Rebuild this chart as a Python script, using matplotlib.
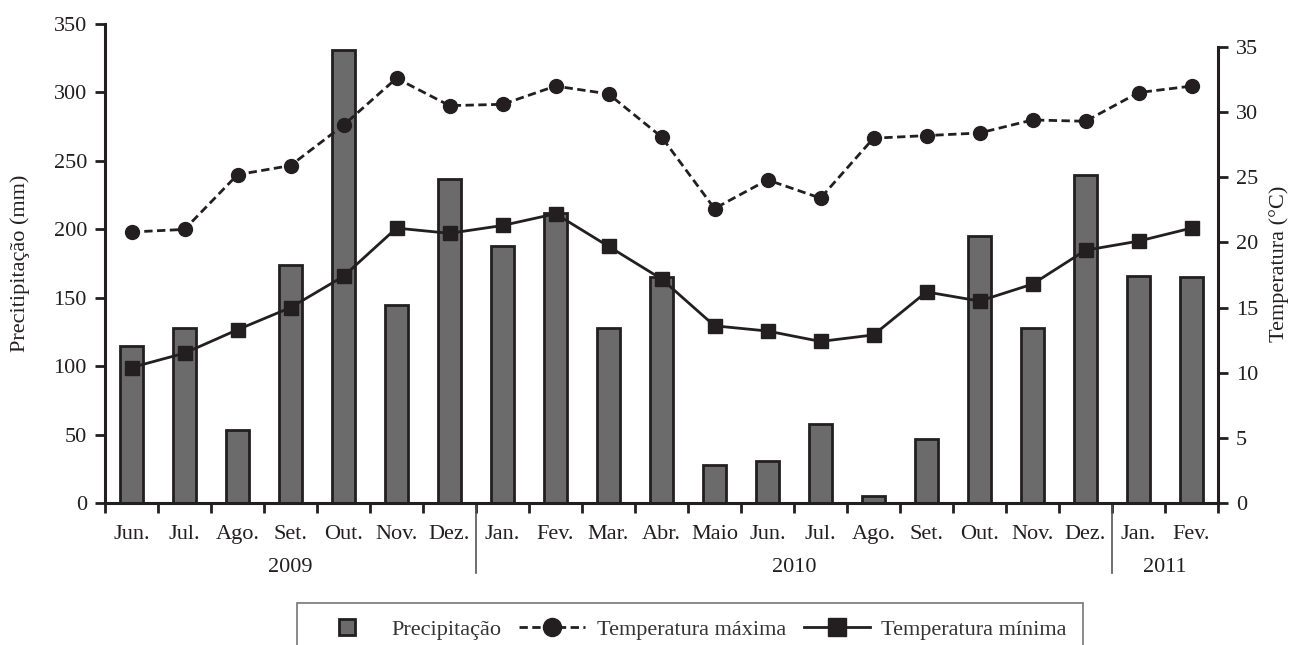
import numpy as np
import matplotlib.pyplot as plt
from matplotlib.lines import Line2D

plt.rcParams['font.family'] = ['Liberation Serif', 'DejaVu Serif']

meses = ['Jun.', 'Jul.', 'Ago.', 'Set.', 'Out.', 'Nov.', 'Dez.',
         'Jan.', 'Fev.', 'Mar.', 'Abr.', 'Maio', 'Jun.', 'Jul.', 'Ago.',
         'Set.', 'Out.', 'Nov.', 'Dez.', 'Jan.', 'Fev.']
precipitacao = [115, 128, 53, 174, 331, 145, 237,
                188, 212, 128, 165, 28, 31, 58, 5,
                47, 195, 128, 240, 166, 165]
temp_max = [20.8, 21.0, 25.2, 25.9, 29.0, 32.6, 30.5,
            30.6, 32.0, 31.4, 28.1, 22.6, 24.8, 23.4, 28.0,
            28.2, 28.4, 29.4, 29.3, 31.5, 32.0]
temp_min = [10.4, 11.5, 13.3, 15.0, 17.4, 21.1, 20.7,
            21.3, 22.2, 19.7, 17.2, 13.6, 13.2, 12.4, 12.9,
            16.2, 15.5, 16.8, 19.4, 20.1, 21.1]
anos = ['2009', '2010', '2011']
meses_por_ano = [7, 12, 2]

ink = '#231f20'
x = np.arange(len(meses))

fig = plt.figure(figsize=(12.89, 6.45), dpi=100)
ax = fig.add_axes([105 / 1289, 1 - 503 / 645, 1113 / 1289, 479 / 645])
ax2 = ax.twinx()

ax.bar(x, precipitacao, width=0.42, color='#6b6b6b', edgecolor=ink, linewidth=2, zorder=2)
ax.set_xlim(-0.5, len(meses) - 0.5)
ax.set_ylim(0, 350)
ax.set_yticks(np.arange(0, 351, 50))

ax2.plot(x, temp_max, color=ink, lw=2, ls=(0, (3, 1.6)), marker='o', ms=10)
ax2.plot(x, temp_min, color=ink, lw=2, ls='-', marker='s', ms=10)
ax2.set_ylim(0, 35 * 479 / 456)
ax2.set_yticks(np.arange(0, 36, 5))
ax2.spines['right'].set_bounds(0, 35)

for a in (ax, ax2):
    a.spines['top'].set_visible(False)
    for s in a.spines.values():
        s.set_linewidth(2.2)
        s.set_color(ink)
    a.tick_params(axis='y', direction='out', length=7, width=2, labelsize=16, colors=ink, pad=6)
ax2.spines['left'].set_visible(False)
ax.spines['right'].set_visible(False)
ax2.spines['bottom'].set_visible(False)

# month ticks between categories, labels at centres
ax.set_xticks(np.arange(-0.5, len(meses), 1))
ax.set_xticklabels([])
ax.set_xticks(x, minor=True)
ax.set_xticklabels(meses, minor=True, fontsize=16, color=ink)
ax.tick_params(axis='x', which='major', direction='out', length=7, width=2, colors=ink)
ax.tick_params(axis='x', which='minor', length=0, pad=16)

ax.set_ylabel('Precitipitação (mm)', fontsize=16, color=ink, labelpad=17)
ax2.set_ylabel('Temperatura (°C)', fontsize=16, color=ink, labelpad=8)

# year labels and separators
inicio = 0
for i, (ano, n) in enumerate(zip(anos, meses_por_ano)):
    centro = inicio + n / 2 - 0.5
    ax.text(centro, -0.135, ano, transform=ax.get_xaxis_transform(),
            ha='center', va='center', fontsize=16, color=ink)
    if i > 0:
        ax.plot([inicio - 0.5, inicio - 0.5], [0, -0.147], transform=ax.get_xaxis_transform(),
                color='#555555', lw=1.2, clip_on=False)
    inicio += n

handles = [
    Line2D([], [], ls='none', marker='s', ms=12, mfc='#6b6b6b', mec=ink, mew=2),
    Line2D([], [], color=ink, lw=2, ls=(0, (3, 1.6)), marker='o', ms=13),
    Line2D([], [], color=ink, lw=2, ls='-', marker='s', ms=13),
]
labels = ['Precipitação', 'Temperatura máxima', 'Temperatura mínima']
leg = fig.legend(handles, labels, loc='upper center', bbox_to_anchor=(690 / 1289, 1 - 603 / 645),
                 ncol=3, fontsize=16, frameon=True, fancybox=False, edgecolor='#555555',
                 handlelength=3.0, columnspacing=0.8, handletextpad=0.5, borderpad=0.75,
                 borderaxespad=0)
leg.get_frame().set_linewidth(1.2)
for t in leg.get_texts():
    t.set_color('#333333')

plt.savefig('out.png', dpi=100)
